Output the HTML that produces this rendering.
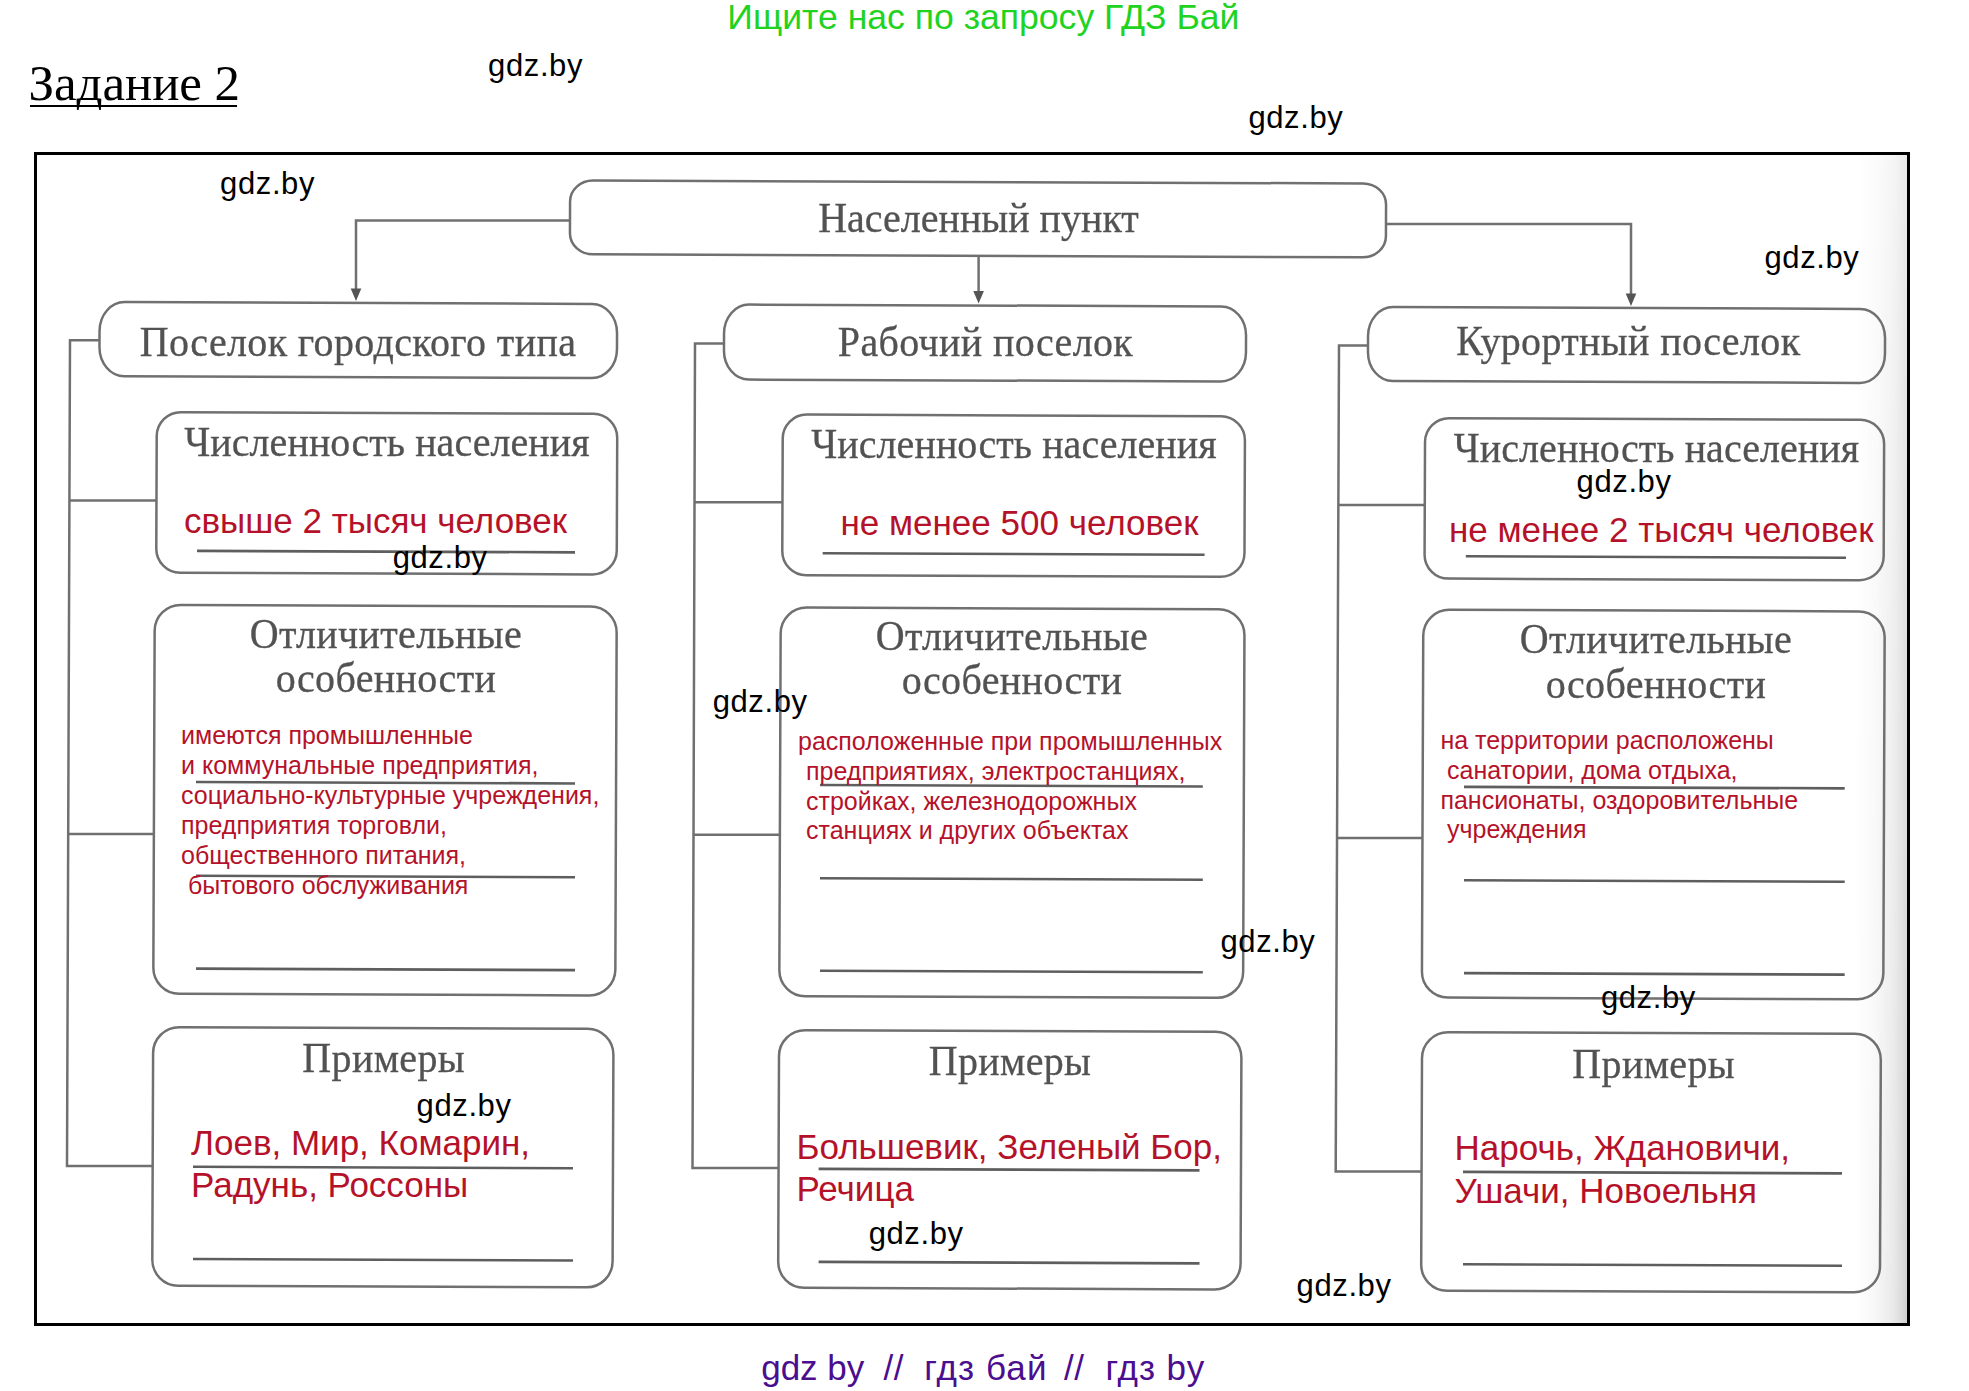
<!DOCTYPE html>
<html><head><meta charset="utf-8"><title>Задание 2</title>
<style>
html,body{margin:0;padding:0;background:#fff;}
body{width:1969px;height:1391px;position:relative;overflow:hidden;}
.t{position:absolute;white-space:pre;}
#frame{position:absolute;left:34px;top:152px;width:1876px;height:1174px;box-sizing:border-box;border:3px solid #000;}
#shade{position:absolute;left:1855px;top:155px;width:52px;height:1168px;background:linear-gradient(to right, rgba(0,0,0,0) 0%, rgba(0,0,0,0.03) 40%, rgba(0,0,0,0.09) 75%, rgba(0,0,0,0.18) 100%);-webkit-mask-image:linear-gradient(to bottom, rgba(0,0,0,0.45) 0%, rgba(0,0,0,0.7) 40%, rgba(0,0,0,1) 100%);}
#ul{position:absolute;left:30px;top:105px;width:207px;height:2px;background:#000;}
svg{position:absolute;left:0;top:0;}
</style></head><body>
<div id="shade"></div>
<svg width="1969" height="1391" viewBox="0 0 1969 1391">
<rect x="570.0" y="182.0" width="816.0" height="73.8" rx="23" ry="21" fill="none" stroke="#707070" stroke-width="2.5" transform="rotate(0.22 978.0 218.9)"/>
<polyline points="570.0,220.5 356.0,220.5 356.0,290.0" fill="none" stroke="#707070" stroke-width="2.5"/>
<path d="M350.7,288.5 L361.3,288.5 L356.0,301.0 Z" fill="#555"/>
<polyline points="978.6,255.0 978.6,292.0" fill="none" stroke="#707070" stroke-width="2.5"/>
<path d="M973.3,291.0 L983.9,291.0 L978.6,303.5 Z" fill="#555"/>
<polyline points="1386.0,224.0 1631.0,224.0 1631.0,294.0" fill="none" stroke="#707070" stroke-width="2.5"/>
<path d="M1625.7,293.5 L1636.3,293.5 L1631.0,306.0 Z" fill="#555"/>
<rect x="99.5" y="303.0" width="517.5" height="74.2" rx="25" ry="29" fill="none" stroke="#707070" stroke-width="2.5" transform="rotate(0.22 358.2 340.1)"/>
<rect x="724.0" y="305.5" width="522.0" height="75.0" rx="25" ry="29" fill="none" stroke="#707070" stroke-width="2.5" transform="rotate(0.22 985.0 343.0)"/>
<rect x="1368.0" y="308.0" width="517.0" height="74.0" rx="25" ry="29" fill="none" stroke="#707070" stroke-width="2.5" transform="rotate(0.22 1626.5 345.0)"/>
<polyline points="99.5,340.3 70.0,340.3 67.0,1166.0 152.7,1166.0" fill="none" stroke="#707070" stroke-width="2.5"/>
<polyline points="69.6,500.5 156.5,500.5" fill="none" stroke="#707070" stroke-width="2.5"/>
<polyline points="68.5,834.0 154.0,834.0" fill="none" stroke="#707070" stroke-width="2.5"/>
<polyline points="724.0,343.4 695.0,343.4 692.5,1168.0 778.6,1168.0" fill="none" stroke="#707070" stroke-width="2.5"/>
<polyline points="694.6,502.3 782.5,502.3" fill="none" stroke="#707070" stroke-width="2.5"/>
<polyline points="693.6,834.7 780.0,834.7" fill="none" stroke="#707070" stroke-width="2.5"/>
<polyline points="1368.0,345.4 1339.0,345.4 1335.7,1171.6 1421.6,1171.6" fill="none" stroke="#707070" stroke-width="2.5"/>
<polyline points="1338.5,505.0 1424.8,505.0" fill="none" stroke="#707070" stroke-width="2.5"/>
<polyline points="1337.2,838.0 1422.6,838.0" fill="none" stroke="#707070" stroke-width="2.5"/>
<rect x="156.5" y="413.0" width="460.5" height="160.6" rx="24" ry="24" fill="none" stroke="#707070" stroke-width="2.5" transform="rotate(0.22 386.8 493.3)"/>
<line x1="197.0" y1="551.6" x2="575.0" y2="551.6" stroke="#5e5e5e" stroke-width="2.6" transform="rotate(0.22 386.0 551.6)"/>
<rect x="154.0" y="605.7" width="462.0" height="388.9" rx="26" ry="26" fill="none" stroke="#707070" stroke-width="2.5" transform="rotate(0.22 385.0 800.2)"/>
<line x1="196.0" y1="782.7" x2="575.0" y2="782.7" stroke="#5e5e5e" stroke-width="2.6" transform="rotate(0.22 385.5 782.7)"/>
<line x1="196.0" y1="876.5" x2="575.0" y2="876.5" stroke="#5e5e5e" stroke-width="2.6" transform="rotate(0.22 385.5 876.5)"/>
<line x1="196.0" y1="969.4" x2="575.0" y2="969.4" stroke="#5e5e5e" stroke-width="2.6" transform="rotate(0.22 385.5 969.4)"/>
<rect x="152.7" y="1028.0" width="460.3" height="258.5" rx="26" ry="26" fill="none" stroke="#707070" stroke-width="2.5" transform="rotate(0.22 382.9 1157.2)"/>
<line x1="193.0" y1="1167.5" x2="573.0" y2="1167.5" stroke="#5e5e5e" stroke-width="2.6" transform="rotate(0.22 383.0 1167.5)"/>
<line x1="193.0" y1="1259.8" x2="573.0" y2="1259.8" stroke="#5e5e5e" stroke-width="2.6" transform="rotate(0.22 383.0 1259.8)"/>
<rect x="782.5" y="415.4" width="462.2" height="160.6" rx="24" ry="24" fill="none" stroke="#707070" stroke-width="2.5" transform="rotate(0.22 1013.6 495.7)"/>
<line x1="822.7" y1="554.0" x2="1204.6" y2="554.0" stroke="#5e5e5e" stroke-width="2.6" transform="rotate(0.22 1013.6 554.0)"/>
<rect x="780.0" y="608.4" width="463.8" height="388.6" rx="26" ry="26" fill="none" stroke="#707070" stroke-width="2.5" transform="rotate(0.22 1011.9 802.7)"/>
<line x1="820.0" y1="785.7" x2="1202.8" y2="785.7" stroke="#5e5e5e" stroke-width="2.6" transform="rotate(0.22 1011.4 785.7)"/>
<line x1="820.0" y1="879.0" x2="1202.8" y2="879.0" stroke="#5e5e5e" stroke-width="2.6" transform="rotate(0.22 1011.4 879.0)"/>
<line x1="820.0" y1="971.5" x2="1202.8" y2="971.5" stroke="#5e5e5e" stroke-width="2.6" transform="rotate(0.22 1011.4 971.5)"/>
<rect x="778.6" y="1031.0" width="462.4" height="257.6" rx="26" ry="26" fill="none" stroke="#707070" stroke-width="2.5" transform="rotate(0.22 1009.8 1159.8)"/>
<line x1="818.6" y1="1169.6" x2="1199.5" y2="1169.6" stroke="#5e5e5e" stroke-width="2.6" transform="rotate(0.22 1009.0 1169.6)"/>
<line x1="818.6" y1="1262.6" x2="1199.5" y2="1262.6" stroke="#5e5e5e" stroke-width="2.6" transform="rotate(0.22 1009.0 1262.6)"/>
<rect x="1424.8" y="419.0" width="459.1" height="160.4" rx="24" ry="24" fill="none" stroke="#707070" stroke-width="2.5" transform="rotate(0.22 1654.3 499.2)"/>
<line x1="1465.8" y1="557.0" x2="1846.0" y2="557.0" stroke="#5e5e5e" stroke-width="2.6" transform="rotate(0.22 1655.9 557.0)"/>
<rect x="1422.6" y="610.6" width="461.4" height="387.8" rx="26" ry="26" fill="none" stroke="#707070" stroke-width="2.5" transform="rotate(0.22 1653.3 804.5)"/>
<line x1="1464.0" y1="787.6" x2="1844.7" y2="787.6" stroke="#5e5e5e" stroke-width="2.6" transform="rotate(0.22 1654.3 787.6)"/>
<line x1="1464.0" y1="881.0" x2="1844.7" y2="881.0" stroke="#5e5e5e" stroke-width="2.6" transform="rotate(0.22 1654.3 881.0)"/>
<line x1="1464.0" y1="973.9" x2="1844.7" y2="973.9" stroke="#5e5e5e" stroke-width="2.6" transform="rotate(0.22 1654.3 973.9)"/>
<rect x="1421.6" y="1033.0" width="458.8" height="258.5" rx="26" ry="26" fill="none" stroke="#707070" stroke-width="2.5" transform="rotate(0.22 1651.0 1162.2)"/>
<line x1="1463.0" y1="1172.6" x2="1842.0" y2="1172.6" stroke="#5e5e5e" stroke-width="2.6" transform="rotate(0.22 1652.5 1172.6)"/>
<line x1="1463.0" y1="1265.0" x2="1842.0" y2="1265.0" stroke="#5e5e5e" stroke-width="2.6" transform="rotate(0.22 1652.5 1265.0)"/>
</svg>
<div id="frame"></div>
<div id="ul"></div>
<div class="t" style="left:-21.5px;width:2000px;text-align:center;top:198.9px;font-size:40px;line-height:40px;font-family:'Liberation Serif', serif;color:#525252;-webkit-text-stroke:0.3px #555;letter-spacing:0.0px;transform:scaleY(1.06);transform-origin:50% 33.50px;">Населенный пункт</div>
<div class="t" style="left:-642.0px;width:2000px;text-align:center;top:322.8px;font-size:40px;line-height:40px;font-family:'Liberation Serif', serif;color:#525252;-webkit-text-stroke:0.3px #555;letter-spacing:0.35px;transform:scaleY(1.06);transform-origin:50% 33.50px;">Поселок городского типа</div>
<div class="t" style="left:-14.5px;width:2000px;text-align:center;top:322.8px;font-size:40px;line-height:40px;font-family:'Liberation Serif', serif;color:#525252;-webkit-text-stroke:0.3px #555;letter-spacing:0.35px;transform:scaleY(1.06);transform-origin:50% 33.50px;">Рабочий поселок</div>
<div class="t" style="left:628.4px;width:2000px;text-align:center;top:322.3px;font-size:40px;line-height:40px;font-family:'Liberation Serif', serif;color:#525252;-webkit-text-stroke:0.3px #555;letter-spacing:0.35px;transform:scaleY(1.06);transform-origin:50% 33.50px;">Курортный поселок</div>
<div class="t" style="left:-613.0px;width:2000px;text-align:center;top:422.9px;font-size:40px;line-height:40px;font-family:'Liberation Serif', serif;color:#525252;-webkit-text-stroke:0.3px #555;letter-spacing:0.06px;transform:scaleY(1.06);transform-origin:50% 33.50px;">Численность населения</div>
<div class="t" style="left:-614.0px;width:2000px;text-align:center;top:615.3px;font-size:40px;line-height:40px;font-family:'Liberation Serif', serif;color:#525252;-webkit-text-stroke:0.3px #555;letter-spacing:0.35px;transform:scaleY(1.06);transform-origin:50% 33.50px;">Отличительные</div>
<div class="t" style="left:-614.0px;width:2000px;text-align:center;top:659.3px;font-size:40px;line-height:40px;font-family:'Liberation Serif', serif;color:#525252;-webkit-text-stroke:0.3px #555;letter-spacing:0.35px;transform:scaleY(1.06);transform-origin:50% 33.50px;">особенности</div>
<div class="t" style="left:-616.3px;width:2000px;text-align:center;top:1039.1px;font-size:40px;line-height:40px;font-family:'Liberation Serif', serif;color:#525252;-webkit-text-stroke:0.3px #555;letter-spacing:0.35px;transform:scaleY(1.06);transform-origin:50% 33.50px;">Примеры</div>
<div class="t" style="left:14.0px;width:2000px;text-align:center;top:425.0px;font-size:40px;line-height:40px;font-family:'Liberation Serif', serif;color:#525252;-webkit-text-stroke:0.3px #555;letter-spacing:0.06px;transform:scaleY(1.06);transform-origin:50% 33.50px;">Численность населения</div>
<div class="t" style="left:12.0px;width:2000px;text-align:center;top:616.7px;font-size:40px;line-height:40px;font-family:'Liberation Serif', serif;color:#525252;-webkit-text-stroke:0.3px #555;letter-spacing:0.35px;transform:scaleY(1.06);transform-origin:50% 33.50px;">Отличительные</div>
<div class="t" style="left:12.0px;width:2000px;text-align:center;top:661.3px;font-size:40px;line-height:40px;font-family:'Liberation Serif', serif;color:#525252;-webkit-text-stroke:0.3px #555;letter-spacing:0.35px;transform:scaleY(1.06);transform-origin:50% 33.50px;">особенности</div>
<div class="t" style="left:10.0px;width:2000px;text-align:center;top:1042.0px;font-size:40px;line-height:40px;font-family:'Liberation Serif', serif;color:#525252;-webkit-text-stroke:0.3px #555;letter-spacing:0.35px;transform:scaleY(1.06);transform-origin:50% 33.50px;">Примеры</div>
<div class="t" style="left:656.5px;width:2000px;text-align:center;top:428.6px;font-size:40px;line-height:40px;font-family:'Liberation Serif', serif;color:#525252;-webkit-text-stroke:0.3px #555;letter-spacing:0.06px;transform:scaleY(1.06);transform-origin:50% 33.50px;">Численность населения</div>
<div class="t" style="left:656.0px;width:2000px;text-align:center;top:620.3px;font-size:40px;line-height:40px;font-family:'Liberation Serif', serif;color:#525252;-webkit-text-stroke:0.3px #555;letter-spacing:0.35px;transform:scaleY(1.06);transform-origin:50% 33.50px;">Отличительные</div>
<div class="t" style="left:656.0px;width:2000px;text-align:center;top:664.8px;font-size:40px;line-height:40px;font-family:'Liberation Serif', serif;color:#525252;-webkit-text-stroke:0.3px #555;letter-spacing:0.35px;transform:scaleY(1.06);transform-origin:50% 33.50px;">особенности</div>
<div class="t" style="left:653.7px;width:2000px;text-align:center;top:1044.8px;font-size:40px;line-height:40px;font-family:'Liberation Serif', serif;color:#525252;-webkit-text-stroke:0.3px #555;letter-spacing:0.35px;transform:scaleY(1.06);transform-origin:50% 33.50px;">Примеры</div>
<div class="t" style="left:184.0px;top:503.1px;font-size:35px;line-height:35px;font-family:'Liberation Sans', sans-serif;color:#b5122a;">свыше 2 тысяч человек</div>
<div class="t" style="left:181.0px;top:722.8px;font-size:25px;line-height:25px;font-family:'Liberation Sans', sans-serif;color:#b5122a;">имеются промышленные</div>
<div class="t" style="left:181.0px;top:752.8px;font-size:25px;line-height:25px;font-family:'Liberation Sans', sans-serif;color:#b5122a;">и коммунальные предприятия,</div>
<div class="t" style="left:181.0px;top:782.8px;font-size:25px;line-height:25px;font-family:'Liberation Sans', sans-serif;color:#b5122a;">социально-культурные учреждения,</div>
<div class="t" style="left:181.0px;top:812.8px;font-size:25px;line-height:25px;font-family:'Liberation Sans', sans-serif;color:#b5122a;">предприятия торговли,</div>
<div class="t" style="left:181.0px;top:842.8px;font-size:25px;line-height:25px;font-family:'Liberation Sans', sans-serif;color:#b5122a;">общественного питания,</div>
<div class="t" style="left:188.0px;top:872.8px;font-size:25px;line-height:25px;font-family:'Liberation Sans', sans-serif;color:#b5122a;">бытового обслуживания</div>
<div class="t" style="left:191.0px;top:1125.4px;font-size:35px;line-height:35px;font-family:'Liberation Sans', sans-serif;color:#b5122a;">Лоев, Мир, Комарин,</div>
<div class="t" style="left:191.0px;top:1167.2px;font-size:35px;line-height:35px;font-family:'Liberation Sans', sans-serif;color:#b5122a;">Радунь, Россоны</div>
<div class="t" style="left:840.5px;top:505.2px;font-size:35px;line-height:35px;font-family:'Liberation Sans', sans-serif;color:#b5122a;">не менее 500 человек</div>
<div class="t" style="left:798.0px;top:728.8px;font-size:25px;line-height:25px;font-family:'Liberation Sans', sans-serif;color:#b5122a;">расположенные при промышленных</div>
<div class="t" style="left:806.0px;top:758.8px;font-size:25px;line-height:25px;font-family:'Liberation Sans', sans-serif;color:#b5122a;">предприятиях, электростанциях,</div>
<div class="t" style="left:806.0px;top:788.6px;font-size:25px;line-height:25px;font-family:'Liberation Sans', sans-serif;color:#b5122a;">стройках, железнодорожных</div>
<div class="t" style="left:806.0px;top:817.8px;font-size:25px;line-height:25px;font-family:'Liberation Sans', sans-serif;color:#b5122a;">станциях и других объектах</div>
<div class="t" style="left:796.5px;top:1129.0px;font-size:35px;line-height:35px;font-family:'Liberation Sans', sans-serif;color:#b5122a;">Большевик, Зеленый Бор,</div>
<div class="t" style="left:796.5px;top:1171.2px;font-size:35px;line-height:35px;font-family:'Liberation Sans', sans-serif;color:#b5122a;">Речица</div>
<div class="t" style="left:1449.0px;top:511.9px;font-size:35px;line-height:35px;font-family:'Liberation Sans', sans-serif;color:#b5122a;">не менее 2 тысяч человек</div>
<div class="t" style="left:1440.4px;top:727.6px;font-size:25px;line-height:25px;font-family:'Liberation Sans', sans-serif;color:#b5122a;">на территории расположены</div>
<div class="t" style="left:1447.0px;top:757.8px;font-size:25px;line-height:25px;font-family:'Liberation Sans', sans-serif;color:#b5122a;">санатории, дома отдыха,</div>
<div class="t" style="left:1440.4px;top:787.8px;font-size:25px;line-height:25px;font-family:'Liberation Sans', sans-serif;color:#b5122a;">пансионаты, оздоровительные</div>
<div class="t" style="left:1447.0px;top:816.8px;font-size:25px;line-height:25px;font-family:'Liberation Sans', sans-serif;color:#b5122a;">учреждения</div>
<div class="t" style="left:1454.6px;top:1130.1px;font-size:35px;line-height:35px;font-family:'Liberation Sans', sans-serif;color:#b5122a;">Нарочь, Ждановичи,</div>
<div class="t" style="left:1454.6px;top:1173.4px;font-size:35px;line-height:35px;font-family:'Liberation Sans', sans-serif;color:#b5122a;">Ушачи, Новоельня</div>
<div class="t" style="left:-16.6px;width:2000px;text-align:center;top:-0.3px;font-size:35.6px;line-height:35.6px;font-family:'Liberation Sans', sans-serif;color:#1fd320;">Ищите нас по запросу ГДЗ Бай</div>
<div class="t" style="left:28.6px;top:57.8px;font-size:51px;line-height:51px;font-family:'Liberation Serif', serif;color:#000;letter-spacing:-0.1px;">Задание 2</div>
<div class="t" style="left:761.2px;top:1350.1px;font-size:35px;line-height:35px;font-family:'Liberation Sans', sans-serif;color:#4b0e8f;letter-spacing:0px;">gdz by</div>
<div class="t" style="left:883.6px;top:1350.1px;font-size:35px;line-height:35px;font-family:'Liberation Sans', sans-serif;color:#4b0e8f;letter-spacing:0.5px;">//</div>
<div class="t" style="left:924.2px;top:1350.1px;font-size:35px;line-height:35px;font-family:'Liberation Sans', sans-serif;color:#4b0e8f;letter-spacing:1.1px;">гдз бай</div>
<div class="t" style="left:1064.0px;top:1350.1px;font-size:35px;line-height:35px;font-family:'Liberation Sans', sans-serif;color:#4b0e8f;letter-spacing:0.5px;">//</div>
<div class="t" style="left:1105.5px;top:1350.1px;font-size:35px;line-height:35px;font-family:'Liberation Sans', sans-serif;color:#4b0e8f;letter-spacing:0.9px;">гдз by</div>
<div class="t" style="left:488.1px;top:50.2px;font-size:31px;line-height:31px;font-family:'Liberation Sans', sans-serif;color:#000;letter-spacing:0.6px;">gdz.by</div>
<div class="t" style="left:1248.4px;top:101.6px;font-size:31px;line-height:31px;font-family:'Liberation Sans', sans-serif;color:#000;letter-spacing:0.6px;">gdz.by</div>
<div class="t" style="left:220.1px;top:167.5px;font-size:31px;line-height:31px;font-family:'Liberation Sans', sans-serif;color:#000;letter-spacing:0.6px;">gdz.by</div>
<div class="t" style="left:1764.5px;top:241.6px;font-size:31px;line-height:31px;font-family:'Liberation Sans', sans-serif;color:#000;letter-spacing:0.6px;">gdz.by</div>
<div class="t" style="left:392.7px;top:541.5px;font-size:31px;line-height:31px;font-family:'Liberation Sans', sans-serif;color:#000;letter-spacing:0.6px;">gdz.by</div>
<div class="t" style="left:1576.6px;top:465.8px;font-size:31px;line-height:31px;font-family:'Liberation Sans', sans-serif;color:#000;letter-spacing:0.6px;">gdz.by</div>
<div class="t" style="left:712.7px;top:685.8px;font-size:31px;line-height:31px;font-family:'Liberation Sans', sans-serif;color:#000;letter-spacing:0.6px;">gdz.by</div>
<div class="t" style="left:1220.5px;top:925.8px;font-size:31px;line-height:31px;font-family:'Liberation Sans', sans-serif;color:#000;letter-spacing:0.6px;">gdz.by</div>
<div class="t" style="left:1600.9px;top:981.5px;font-size:31px;line-height:31px;font-family:'Liberation Sans', sans-serif;color:#000;letter-spacing:0.6px;">gdz.by</div>
<div class="t" style="left:416.6px;top:1089.7px;font-size:31px;line-height:31px;font-family:'Liberation Sans', sans-serif;color:#000;letter-spacing:0.6px;">gdz.by</div>
<div class="t" style="left:868.7px;top:1217.6px;font-size:31px;line-height:31px;font-family:'Liberation Sans', sans-serif;color:#000;letter-spacing:0.6px;">gdz.by</div>
<div class="t" style="left:1296.6px;top:1269.6px;font-size:31px;line-height:31px;font-family:'Liberation Sans', sans-serif;color:#000;letter-spacing:0.6px;">gdz.by</div>
</body></html>
